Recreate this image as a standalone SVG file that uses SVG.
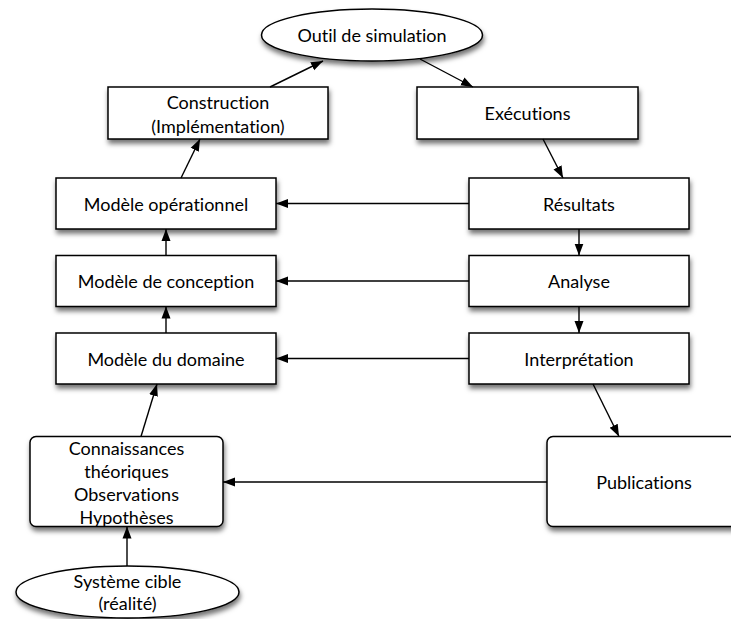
<svg xmlns="http://www.w3.org/2000/svg" width="731" height="619" viewBox="0 0 731 619">
<defs>
<filter id="sh" x="-20%" y="-30%" width="140%" height="170%">
<feDropShadow dx="1" dy="4" stdDeviation="2.5" flood-color="#000" flood-opacity="0.55"/>
</filter>
<marker id="ah" markerUnits="userSpaceOnUse" markerWidth="13" markerHeight="10" viewBox="0 0 13 10" refX="12" refY="5" orient="auto">
<path d="M0,0.5 L12,5 L0,9.5 z" fill="#000"/>
</marker>
<style>
.n{fill:#fff;stroke:#000;stroke-width:1.5;filter:url(#sh)}
.t{font-family:Lato,"Open Sans","Liberation Sans",sans-serif;font-size:18px;fill:#000;text-anchor:middle;dominant-baseline:central;font-variant-ligatures:none}
.c{fill:none;stroke:#000;stroke-width:1.4;marker-end:url(#ah)}
</style>
</defs>
<rect width="731" height="619" fill="#fff"/>
<g id="outil"><ellipse class="n" cx="372" cy="35" rx="110.5" ry="26"/><text class="t" x="372" y="35">Outil de simulation</text></g>
<g id="construction"><rect class="n" x="108" y="87" width="220" height="52"/><text class="t" x="218" y="102">Construction</text><text class="t" x="218" y="126">(Implémentation)</text></g>
<g id="executions"><rect class="n" x="417" y="87" width="221" height="52"/><text class="t" x="527.5" y="113">Exécutions</text></g>
<g id="operationnel"><rect class="n" x="56" y="178" width="220" height="51"/><text class="t" x="166" y="203.5">Modèle opérationnel</text></g>
<g id="resultats"><rect class="n" x="469" y="178" width="220" height="51"/><text class="t" x="579" y="203.5">Résultats</text></g>
<g id="conception"><rect class="n" x="56" y="255.5" width="220" height="51"/><text class="t" x="166" y="281">Modèle de conception</text></g>
<g id="analyse"><rect class="n" x="469" y="255.5" width="220" height="51"/><text class="t" x="579" y="281">Analyse</text></g>
<g id="domaine"><rect class="n" x="56" y="333" width="220" height="51"/><text class="t" x="166" y="358.5">Modèle du domaine</text></g>
<g id="interpretation"><rect class="n" x="469" y="333" width="220" height="51"/><text class="t" x="579" y="358.5">Interprétation</text></g>
<g id="connaissances"><rect class="n" x="30" y="436.5" width="193" height="90" rx="6"/><text class="t" x="126.5" y="448">Connaissances</text><text class="t" x="126.5" y="471">théoriques</text><text class="t" x="126.5" y="494">Observations</text><text class="t" x="126.5" y="517">Hypothèses</text></g>
<g id="publications"><rect class="n" x="547" y="436.5" width="194" height="90" rx="6"/><text class="t" x="644" y="482">Publications</text></g>
<g id="systeme"><ellipse class="n" cx="127.5" cy="592" rx="111.5" ry="26"/><text class="t" x="127.5" y="581">Système cible</text><text class="t" x="127.5" y="603">(réalité)</text></g>
<g id="connectors">
<line class="c" x1="270" y1="87" x2="323" y2="61"/>
<line class="c" x1="420" y1="59" x2="473" y2="87"/>
<line class="c" x1="543" y1="139" x2="563" y2="178"/>
<line class="c" x1="181" y1="178" x2="200" y2="139"/>
<line class="c" x1="166" y1="255.5" x2="166" y2="229"/>
<line class="c" x1="166" y1="333" x2="166" y2="306.5"/>
<line class="c" x1="141" y1="436.5" x2="157" y2="384"/>
<line class="c" x1="127" y1="566" x2="127" y2="526.5"/>
<line class="c" x1="469" y1="203.5" x2="276" y2="203.5"/>
<line class="c" x1="469" y1="281" x2="276" y2="281"/>
<line class="c" x1="469" y1="358.5" x2="276" y2="358.5"/>
<line class="c" x1="579" y1="229" x2="579" y2="255.5"/>
<line class="c" x1="579" y1="306.5" x2="579" y2="333"/>
<line class="c" x1="593" y1="384" x2="619" y2="436.5"/>
<line class="c" x1="547" y1="482" x2="223" y2="482"/>
</g>
</svg>
